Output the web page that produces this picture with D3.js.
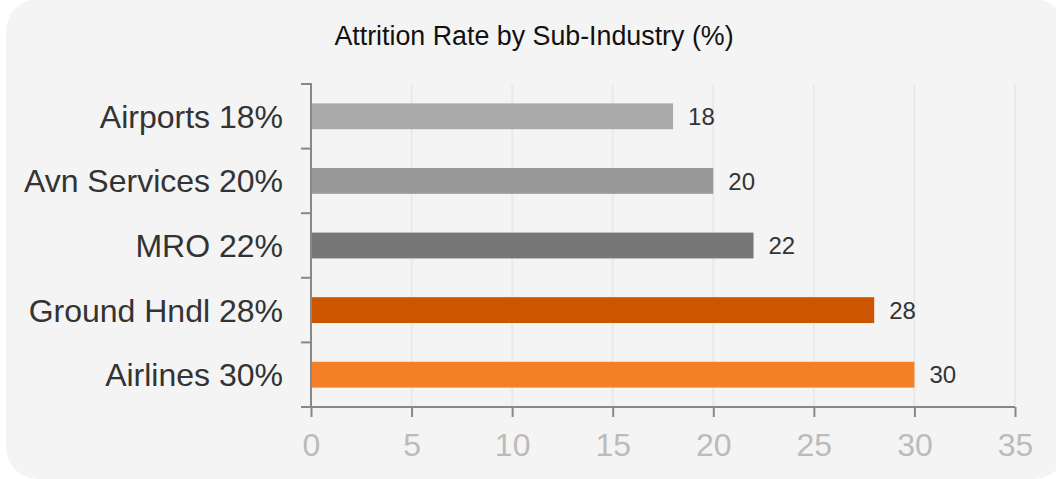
<!DOCTYPE html>
<html>
<head>
<meta charset="utf-8">
<script src="https://cdn.jsdelivr.net/npm/d3@7"></script>
<style>
  html, body { margin: 0; padding: 0; background: #ffffff; }
  svg { display: block; font-family: "Liberation Sans", Arial, sans-serif; }
</style>
</head>
<body>
<svg id="chart" width="1056" height="479"></svg>
<script>
const title = "Attrition Rate by Sub-Industry (%)";
const categories = ["Airports", "Avn Services", "MRO", "Ground Hndl", "Airlines"];
const values = [18, 20, 22, 28, 30];
const barColors = ["#aaaaaa", "#999999", "#777777", "#cc5500", "#f37f26"];
const xTicks = [0, 5, 10, 15, 20, 25, 30, 35];

(function () {
const svg = d3.select("#chart");
const pLeft = 311, pRight = 1015, pTop = 84, pBottom = 407;

svg.append("rect")
  .attr("x", 6).attr("y", -1)
  .attr("width", 1060).attr("height", 480)
  .attr("rx", 32).attr("ry", 32)
  .attr("fill", "#f4f4f4");

svg.append("text")
  .attr("x", 534).attr("y", 45)
  .attr("text-anchor", "middle")
  .attr("font-size", 26.8)
  .attr("fill", "#111")
  .text(title);

const x = d3.scaleLinear().domain([0, 35]).range([pLeft, pRight]);
const y = d3.scaleBand().domain(categories).range([pTop, pBottom]).paddingInner(0.6).paddingOuter(0.3);
const yb = d3.scaleBand().domain(categories).range([pTop, pBottom]);

// gridlines
svg.append("g").selectAll("line")
  .data(xTicks.filter(d => d > 0))
  .join("line")
  .attr("x1", d => x(d)).attr("x2", d => x(d))
  .attr("y1", pTop).attr("y2", pBottom)
  .attr("stroke", "#e9e9e9").attr("stroke-width", 2);

// bars
svg.append("g").selectAll("rect")
  .data(categories)
  .join("rect")
  .attr("x", x(0))
  .attr("y", d => y(d))
  .attr("height", y.bandwidth())
  .attr("width", (d, i) => x(values[i]) - x(0))
  .attr("fill", (d, i) => barColors[i]);

// value labels
svg.append("g").selectAll("text")
  .data(categories)
  .join("text")
  .attr("x", (d, i) => x(values[i]) + 15)
  .attr("y", d => y(d) + y.bandwidth() / 2)
  .attr("dy", "0.36em")
  .attr("font-size", 24)
  .attr("fill", "#333")
  .text((d, i) => values[i]);

// x axis
const xAxis = svg.append("g").attr("transform", `translate(0,${pBottom})`)
  .call(d3.axisBottom(x).tickValues(xTicks).tickSize(10).tickPadding(16));
xAxis.select(".domain").attr("stroke", "#888").attr("stroke-width", 2)
  .attr("d", `M${pLeft},0H${pRight}`);
xAxis.selectAll(".tick line").attr("stroke", "#888").attr("stroke-width", 2);
xAxis.selectAll(".tick text").attr("fill", "#bbbbbb").attr("font-size", 32)
  .attr("font-family", "Liberation Sans, Arial, sans-serif");

// y axis: line + boundary ticks
const yg = svg.append("g");
yg.append("line")
  .attr("x1", pLeft).attr("x2", pLeft).attr("y1", pTop - 1).attr("y2", pBottom)
  .attr("stroke", "#888").attr("stroke-width", 2);
const boundaries = categories.map(c => yb(c)).concat([pBottom]);
yg.selectAll("line.tk")
  .data(boundaries)
  .join("line").attr("class", "tk")
  .attr("x1", pLeft - 10).attr("x2", pLeft)
  .attr("y1", d => d).attr("y2", d => d)
  .attr("stroke", "#888").attr("stroke-width", 2);
yg.selectAll("text")
  .data(categories)
  .join("text")
  .attr("x", 283)
  .attr("y", d => yb(d) + yb.bandwidth() / 2)
  .attr("dy", "0.36em")
  .attr("text-anchor", "end")
  .attr("font-size", 32)
  .attr("fill", "#333")
  .text((d, i) => `${d} ${values[i]}%`);
})();
</script>
</body>
</html>
